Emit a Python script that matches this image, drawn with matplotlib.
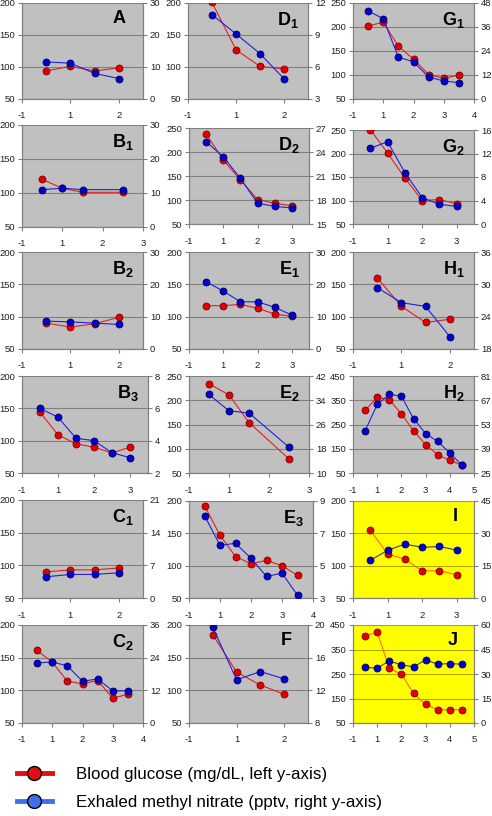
import matplotlib.pyplot as plt
from matplotlib.lines import Line2D

plt.rcParams['font.family'] = ['Liberation Sans', 'DejaVu Sans']
plt.rcParams['mathtext.fontset'] = 'custom'
plt.rcParams['mathtext.bf'] = 'Liberation Sans:bold'
plt.rcParams['mathtext.rm'] = 'Liberation Sans'

# ---- data: x = time point, glu = blood glucose (left), mn = methyl nitrate (right)
a_x = [0.5, 1, 1.5, 2]
a_glu = [94, 101, 94, 98.5]
a_mn = [11.6, 11.2, 8.0, 6.4]

b1_x = [0.5, 1, 1.5, 2.5]
b1_glu = [120, 107, 101, 101]
b1_mn = [11.0, 11.4, 11.0, 11.0]

b2_x = [0.5, 1, 1.5, 2]
b2_glu = [90, 84, 89, 99]
b2_mn = [8.6, 8.4, 8.0, 7.6]

b3_x = [0.5, 1, 1.5, 2, 2.5, 3]
b3_glu = [144, 109, 95, 90, 81, 90]
b3_mn = [6.0, 5.45, 4.15, 4.0, 3.25, 2.95]

c1_x = [0.5, 1, 1.5, 2]
c1_glu = [90, 93, 93, 96]
c1_mn = [4.55, 5.05, 5.05, 5.4]

c2_x = [0.5, 1, 1.5, 2, 2.5, 3, 3.5]
c2_glu = [161, 143, 114, 110, 115, 88, 94]
c2_mn = [22.1, 22.4, 21.0, 15.3, 16.2, 11.8, 11.8]

d1_x = [0.5, 1, 1.5, 2]
d1_glu = [201, 127, 101, 97]
d1_mn = [10.9, 9.1, 7.25, 4.9]

d2_x = [0.5, 1, 1.5, 2, 2.5, 3]
d2_glu = [238, 183, 142, 101, 93, 88]
d2_mn = [25.3, 23.4, 20.7, 17.6, 17.2, 17.0]

e1_x = [0.5, 1, 1.5, 2, 2.5, 3]
e1_glu = [117, 117, 119, 113, 104, 100.5]
e1_mn = [20.8, 17.9, 14.6, 14.6, 12.9, 10.5]

e2_x = [0.5, 1, 1.5, 2.5]
e2_glu = [234, 211, 154, 79]
e2_mn = [35.9, 30.5, 29.8, 18.5]

e3_x = [0.5, 1, 1.5, 2, 2.5, 3, 3.5]
e3_glu = [193, 147, 114, 103, 108, 100, 85]
e3_mn = [8.1, 6.26, 6.38, 5.46, 4.33, 4.54, 3.17]

f_x = [0.5, 1, 1.5, 2]
f_glu = [185, 128, 108, 94]
f_mn = [19.7, 13.3, 14.3, 13.4]

g1_x = [0.5, 1, 1.5, 2, 2.5, 3, 3.5]
g1_glu = [202, 210, 160, 133, 101, 93, 100]
g1_mn = [44.0, 40.2, 20.9, 18.6, 11.0, 9.0, 8.2]

g2_x = [0.5, 1, 1.5, 2, 2.5, 3]
g2_glu = [251, 201, 148, 100, 102, 93]
g2_mn = [12.9, 14.0, 8.75, 4.5, 3.35, 3.0]

h1_x = [0.5, 1, 1.5, 2]
h1_glu = [160, 116, 91, 96]
h1_mn = [29.4, 26.6, 25.9, 20.3]

h2_x = [0.5, 1, 1.5, 2, 2.5, 3, 3.5, 4, 4.5]
h2_glu = [308, 363, 352, 294, 224, 167, 125, 102, 83]
h2_mn = [49.3, 64.6, 70.4, 69.4, 56.4, 47.8, 43.2, 36.6, 29.6]

i_x = [0.5, 1, 1.5, 2, 2.5, 3]
i_glu = [155, 118, 110, 92, 92, 86]
i_mn = [17.5, 22.1, 25.0, 23.5, 23.9, 22.2]

j_x = [0.5, 1, 1.5, 2, 2.5, 3, 3.5, 4, 4.5]
j_glu = [406, 420, 273, 249, 171, 126, 104, 104, 104]
j_mn = [34.0, 33.6, 38.0, 35.6, 34.4, 38.6, 36.0, 36.4, 36.0]

# label, x, glu, mn, left axis (lo, hi, step), right axis (lo, hi, step), xmax, highlighted
panels = [
    ('A', a_x, a_glu, a_mn, (50, 200, 50), (0, 30, 10), 2.5, False),
    ('B_1', b1_x, b1_glu, b1_mn, (50, 200, 50), (0, 30, 10), 3, False),
    ('B_2', b2_x, b2_glu, b2_mn, (50, 200, 50), (0, 30, 10), 2.5, False),
    ('B_3', b3_x, b3_glu, b3_mn, (50, 200, 50), (2, 8, 2), 3.5, False),
    ('C_1', c1_x, c1_glu, c1_mn, (50, 200, 50), (0, 21, 7), 2.5, False),
    ('C_2', c2_x, c2_glu, c2_mn, (50, 200, 50), (0, 36, 12), 4, False),
    ('D_1', d1_x, d1_glu, d1_mn, (50, 200, 50), (3, 12, 3), 2.5, False),
    ('D_2', d2_x, d2_glu, d2_mn, (50, 250, 50), (15, 27, 3), 3.5, False),
    ('E_1', e1_x, e1_glu, e1_mn, (50, 200, 50), (0, 30, 10), 3.5, False),
    ('E_2', e2_x, e2_glu, e2_mn, (50, 250, 50), (10, 42, 8), 3, False),
    ('E_3', e3_x, e3_glu, e3_mn, (50, 200, 50), (3, 9, 2), 4, False),
    ('F', f_x, f_glu, f_mn, (50, 200, 50), (8, 20, 4), 2.5, False),
    ('G_1', g1_x, g1_glu, g1_mn, (50, 250, 50), (0, 48, 12), 4, False),
    ('G_2', g2_x, g2_glu, g2_mn, (50, 250, 50), (0, 16, 4), 3.5, False),
    ('H_1', h1_x, h1_glu, h1_mn, (50, 200, 50), (18, 36, 6), 2.5, False),
    ('H_2', h2_x, h2_glu, h2_mn, (50, 450, 100), (25, 81, 14), 5, False),
    ('I', i_x, i_glu, i_mn, (50, 200, 50), (0, 45, 15), 3.5, True),
    ('J', j_x, j_glu, j_mn, (50, 450, 100), (0, 60, 15), 5, True),
]

# plot-area boxes in pixels: left, top, right, bottom
boxes = [
    (22, 3, 143, 99), (22, 125, 143, 227), (22, 252, 143, 349),
    (22, 376, 148, 473), (22, 500, 143, 598), (22, 625, 143, 723),
    (188, 3, 308, 99), (189, 128, 309, 224), (189, 252, 309, 349),
    (189, 376, 309, 473), (189, 501, 313, 598), (189, 625, 308, 723),
    (353, 3, 474, 99), (353, 130, 474, 224), (353, 252, 474, 349),
    (353, 376, 474, 473), (353, 501, 474, 598), (353, 625, 474, 723),
]

W, H = 492, 816
fig = plt.figure(figsize=(W / 100, H / 100), dpi=100)

axis_grey = '#808080'
red_face, red_edge, red_line = '#e00000', '#800000', '#e02020'
blue_face, blue_edge, blue_line = '#0000d0', '#000060', '#2020e0'

for (lab, x, glu, mn, ly, ry, xmax, hi), (l, t, r, b) in zip(panels, boxes):
    ax = fig.add_axes([l / W, 1 - b / H, (r - l) / W, (b - t) / H])
    ax2 = ax.twinx()
    ax.set_facecolor('#ffff00' if hi else '#c0c0c0')
    ax.set_xlim(0, xmax)
    ax.set_ylim(ly[0], ly[1])
    ax2.set_ylim(ry[0], ry[1])
    xt = list(range(0, int(xmax) + 1))
    ax.set_xticks(xt)
    ax.set_xticklabels(['-1'] + [str(v) for v in xt[1:]])
    ax.set_yticks(range(ly[0], ly[1] + 1, ly[2]))
    ax2.set_yticks(range(ry[0], ry[1] + 1, ry[2]))
    ax.yaxis.grid(True, color='#a8a800' if hi else axis_grey, lw=0.8)
    ax.set_axisbelow(True)
    for a in (ax, ax2):
        a.spines['top'].set_visible(False)
        for s in ('left', 'right', 'bottom'):
            a.spines[s].set_color(axis_grey)
            a.spines[s].set_linewidth(0.8)
        a.tick_params(direction='out', length=3, width=0.8, color=axis_grey,
                      labelsize=6.8, pad=2, labelcolor='#202020')
    ax.tick_params(axis='x', pad=6)
    ax.plot(x, glu, color='#ff7000' if hi else red_line, lw=0.8, marker='o',
            ms=5, mfc=red_face, mec=red_edge, mew=0.6, zorder=3)
    ax2.plot(x, mn, color='#404040' if hi else blue_line, lw=0.8, marker='o',
             ms=5, mfc=blue_face, mec=blue_edge, mew=0.6, zorder=3)
    txt = r'$\mathbf{' + lab + '}$'
    off = 16 if len(lab) == 1 else 9
    ax.text(1 - off / (r - l), 1 - 7 / (b - t), txt, transform=ax.transAxes,
            ha='right', va='top', fontsize=13, zorder=5)

handles = [
    Line2D([], [], color='#e01010', lw=3.5, marker='o', ms=10, mfc='#e01010', mec='black', mew=1),
    Line2D([], [], color='#4070e8', lw=3.5, marker='o', ms=10, mfc='#4070e8', mec='black', mew=1),
]
fig.legend(handles, ['Blood glucose (mg/dL, left y-axis)',
                     'Exhaled methyl nitrate (pptv, right y-axis)'],
           loc='upper left', bbox_to_anchor=(17 / W, 1 - 767 / H), frameon=False,
           fontsize=12.2, handlelength=2.06, handletextpad=1.4, labelspacing=0.76,
           borderpad=0, borderaxespad=0)

fig.savefig('out.png', dpi=100)
